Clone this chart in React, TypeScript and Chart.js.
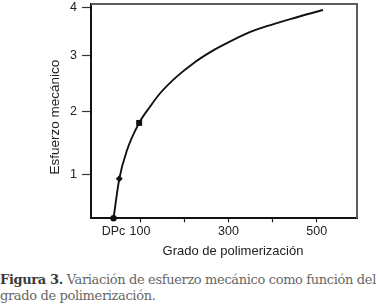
import React, { useEffect, useRef } from 'react';
import { Chart, registerables, LinearScale } from 'chart.js';

Chart.register(...registerables);

// ---- data ----
const DP_VALUES = [40, 53, 70, 98, 123, 145, 183, 221, 258, 281, 342, 387, 440, 514];
const STRESS_VALUES = [0, 0.91, 1.38, 1.82, 2.09, 2.32, 2.62, 2.86, 3.06, 3.18, 3.46, 3.61, 3.76, 3.95];
const MARKER_INDEXES = [0, 1, 3];
const MARKER_STYLES = ['circle', 'rectRot', 'rect'];

const X_TICK_VALUES = [40, 100, 200, 300, 400, 500];
const X_TICK_LABELS = ['DPc', '100', '', '300', '', '500'];
const Y_TICK_VALUES = [1, 2, 3, 4];

// the reference's stress axis is not evenly spaced: value -> fraction of axis height
const Y_AXIS_VALUES = [0, 1, 2, 3, 4, 4.077];
const Y_AXIS_FRACTIONS = [0, 0.2025, 0.4984, 0.7607, 0.983, 1];

const X_TITLE = 'Grado de polimerización';
const Y_TITLE = 'Esfuerzo mecánico';

function interp(v: number, xs: number[], ys: number[]) {
  const n = xs.length;
  let i = 0;
  if (v <= xs[0]) i = 0;
  else if (v >= xs[n - 1]) i = n - 2;
  else {
    while (i < n - 2 && v > xs[i + 1]) i++;
  }
  const t = (v - xs[i]) / (xs[i + 1] - xs[i]);
  return ys[i] + t * (ys[i + 1] - ys[i]);
}

class WarpedLinearScale extends LinearScale {
  static id = 'warpedLinear';
  static defaults = LinearScale.defaults;
  getPixelForValue(value: any) {
    if (value === null || value === undefined || Number.isNaN(+value)) return NaN;
    return this.getPixelForDecimal(interp(+value, Y_AXIS_VALUES, Y_AXIS_FRACTIONS));
  }
  getValueForPixel(pixel: number) {
    return interp(this.getDecimalForPixel(pixel), Y_AXIS_FRACTIONS, Y_AXIS_VALUES);
  }
}
Chart.register(WarpedLinearScale as any);

const SANS = "'Liberation Sans', Arial, sans-serif";

// frame (top/right) and axis titles, placed like in the reference
const framePlugin = {
  id: 'frame',
  beforeDatasetsDraw(chart: any) {
    const { ctx, chartArea } = chart;
    const { left, right, top, bottom } = chartArea;
    ctx.save();
    ctx.strokeStyle = '#5c5c5c';
    ctx.lineWidth = 2;
    ctx.beginPath();
    ctx.moveTo(left, top);
    ctx.lineTo(right, top);
    ctx.lineTo(right, bottom);
    ctx.stroke();
    ctx.restore();
  },
  afterDraw(chart: any) {
    const { ctx, chartArea } = chart;
    const { left, right, top, bottom } = chartArea;
    ctx.save();
    ctx.fillStyle = '#222';
    ctx.textAlign = 'center';
    ctx.textBaseline = 'middle';
    ctx.font = `13px ${SANS}`;
    ctx.fillText(X_TITLE, (left + right) / 2 + 9, bottom + 33.5);
    ctx.translate(left - 36, (top + bottom) / 2 + 6);
    ctx.rotate(-Math.PI / 2);
    ctx.font = `13.5px ${SANS}`;
    ctx.fillText(Y_TITLE, 0, 0);
    ctx.restore();
  },
};

export default function App() {
  const ref = useRef<HTMLCanvasElement | null>(null);
  const capRef = useRef<HTMLDivElement | null>(null);
  const line1Ref = useRef<HTMLSpanElement | null>(null);

  useEffect(() => {
    if (!ref.current) return;
    const pts = DP_VALUES.map((x, i) => ({ x, y: STRESS_VALUES[i] }));
    const styles = DP_VALUES.map((_, i) => {
      const k = MARKER_INDEXES.indexOf(i);
      return k >= 0 ? MARKER_STYLES[k] : 'circle';
    });
    const radii = DP_VALUES.map((_, i) => {
      const k = MARKER_INDEXES.indexOf(i);
      if (k < 0) return 0;
      return MARKER_STYLES[k] === 'rect' ? 4.2 : MARKER_STYLES[k] === 'rectRot' ? 3.5 : 3.2;
    });

    const chart = new Chart(ref.current, {
      type: 'line',
      data: {
        datasets: [
          {
            data: pts,
            borderColor: '#111',
            backgroundColor: '#111',
            borderWidth: 1.9,
            pointStyle: styles as any,
            pointRadius: radii,
            pointBorderWidth: 0,
            pointBackgroundColor: '#111',
            cubicInterpolationMode: 'monotone',
            fill: false,
            clip: false as any,
          },
        ],
      },
      options: {
        animation: false,
        responsive: false,
        devicePixelRatio: 1,
        parsing: false as any,
        layout: { padding: { top: 1, right: 21, left: 40, bottom: 0 } },
        plugins: { legend: { display: false }, tooltip: { enabled: false } },
        scales: {
          x: {
            type: 'linear',
            min: -11,
            max: 591,
            afterBuildTicks: (s: any) => {
              s.ticks = X_TICK_VALUES.map((v) => ({ value: v }));
            },
            afterFit: (s: any) => {
              s.height = 43.7;
              s.paddingLeft = 0;
              s.paddingRight = 0;
            },
            ticks: {
              callback: (_v: any, i: number) => X_TICK_LABELS[i],
              color: '#222',
              font: { family: SANS, size: 12.5 },
              padding: 2,
              maxRotation: 0,
              autoSkip: false,
            },
            grid: {
              drawOnChartArea: false,
              drawTicks: true,
              tickLength: 4,
              tickWidth: 1.2,
              tickColor: (c: any) => (c.index === 0 ? 'rgba(0,0,0,0)' : '#222'),
            },
            border: { color: '#111', width: 2 },
            title: { display: false, text: X_TITLE },
          },
          y: {
            type: 'warpedLinear' as any,
            min: 0,
            max: 4.077,
            afterBuildTicks: (s: any) => {
              s.ticks = Y_TICK_VALUES.map((v) => ({ value: v }));
            },
            afterFit: (s: any) => {
              s.width = 51;
              s.paddingTop = 0;
              s.paddingBottom = 0;
            },
            ticks: {
              color: '#222',
              font: { family: SANS, size: 12.5 },
              padding: 5,
            },
            grid: {
              drawOnChartArea: false,
              drawTicks: true,
              tickLength: 9,
              tickWidth: 1.2,
              tickColor: '#333',
            },
            border: { color: '#111', width: 2 },
            title: { display: false, text: Y_TITLE },
          },
        },
      } as any,
      plugins: [framePlugin],
    });

    // fit the caption's first line to the reference width
    if (capRef.current && line1Ref.current) {
      const w = line1Ref.current.getBoundingClientRect().width;
      const n = (line1Ref.current.textContent || '').length;
      const ls = (376 - w) / n;
      capRef.current.style.letterSpacing = `${ls}px`;
    }
    return () => chart.destroy();
  }, []);

  return (
    <div style={{ position: 'absolute', left: 0, top: 0, width: 378, height: 305, background: '#fff' }}>
      <canvas ref={ref} width={378} height={262} style={{ display: 'block', width: 378, height: 262 }} />
      <div
        ref={capRef}
        style={{
          position: 'absolute',
          left: 0,
          top: 272,
          width: 378,
          fontFamily: "'DejaVu Serif', serif",
          fontSize: 13,
          lineHeight: '16px',
          whiteSpace: 'nowrap',
          color: '#666',
        }}
      >
        <span ref={line1Ref}>
          <span style={{ color: '#3a3a3a', fontWeight: 'bold' }}>Figura 3.</span> Variación de esfuerzo mecánico como función del
        </span>
        <br />
        grado de polimerización.
      </div>
    </div>
  );
}
